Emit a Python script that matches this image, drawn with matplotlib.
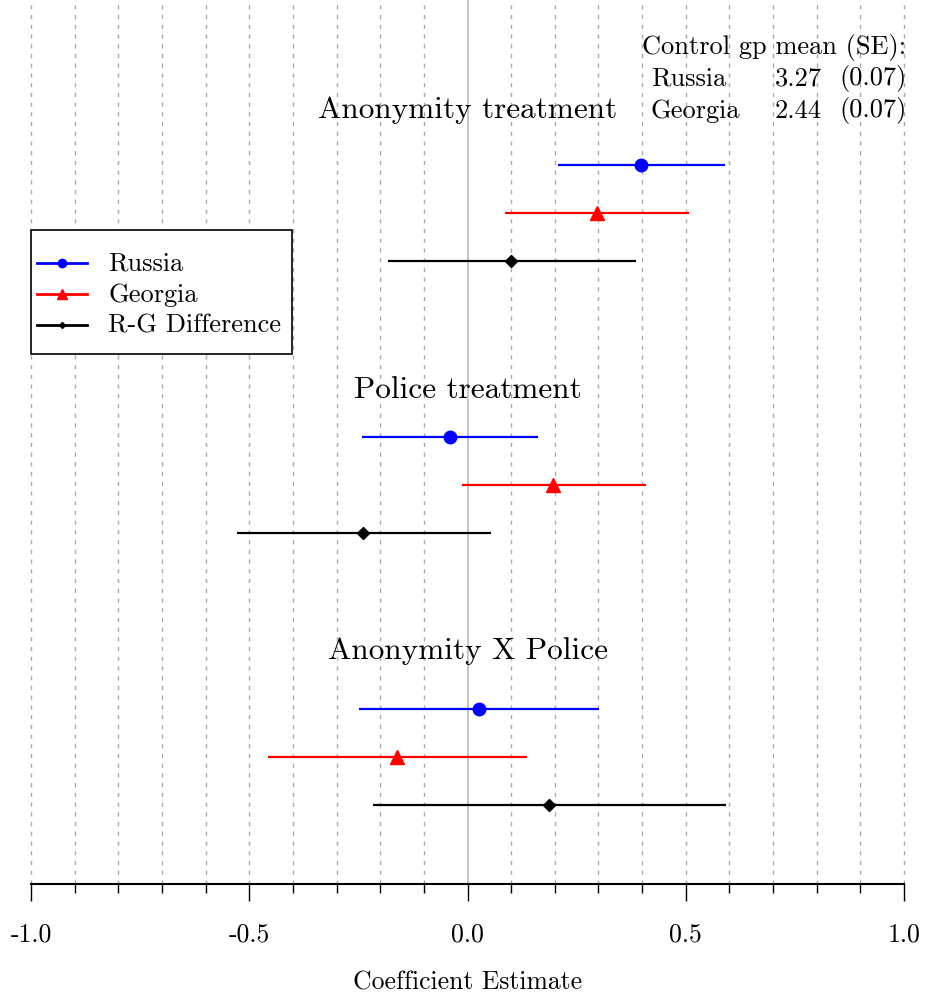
import matplotlib
matplotlib.use("Agg")
import matplotlib.pyplot as plt
from matplotlib.patches import Rectangle
from matplotlib.lines import Line2D
from matplotlib.ticker import MultipleLocator

plt.rcParams['font.family'] = ['cmr10', 'DejaVu Serif']
plt.rcParams['axes.unicode_minus'] = False

# treatment groups and series
groups = ['Anonymity treatment', 'Police treatment', 'Anonymity X Police']
series = ['Russia', 'Georgia', 'R-G Difference']
colors = ['blue', 'red', 'black']
markers = ['o', '^', 'D']
msizes = [9, 10, 6.5]

# estimates with lower / upper bounds, one list per series (order of groups)
est = {
    'Russia':         [0.397, -0.040, 0.026],
    'Georgia':        [0.297, 0.196, -0.162],
    'R-G Difference': [0.100, -0.239, 0.187],
}
lo = {
    'Russia':         [0.207, -0.242, -0.249],
    'Georgia':        [0.086, -0.013, -0.457],
    'R-G Difference': [-0.182, -0.528, -0.216],
}
hi = {
    'Russia':         [0.590, 0.162, 0.301],
    'Georgia':        [0.507, 0.409, 0.136],
    'R-G Difference': [0.386, 0.054, 0.592],
}

# control group means
ctrl_names = ['Russia', 'Georgia']
ctrl_mean = ['3.27', '2.44']
ctrl_se = ['(0.07)', '(0.07)']

W, H = 925, 995
fig = plt.figure(figsize=(W / 100, H / 100), dpi=100)
ax = fig.add_axes([31 / W, 1 - 885 / H, 873 / W, 885 / H])

# row layout (in units of one row = 48 px)
group_start = [3.46, 9.125, 14.79]
title_off = [1.17, 1.0, 1.23]
for g, (name, y0) in enumerate(zip(groups, group_start)):
    ax.text(0.0, y0 - title_off[g], name, ha='center', va='center',
            fontsize=22.5)
    for s, ser in enumerate(series):
        y = y0 + s
        ax.plot([lo[ser][g], hi[ser][g]], [y, y], color=colors[s], lw=1.6,
                solid_capstyle='butt', zorder=3)
        ax.plot(est[ser][g], y, marker=markers[s], color=colors[s],
                markersize=msizes[s], lw=0, zorder=4)

# legend box, drawn in figure pixels
def fx(px):
    return px / W

def fy(py):
    return 1 - py / H

fig.patches.append(Rectangle((fx(31), fy(355)), fx(292) - fx(31),
                             fy(231) - fy(355), transform=fig.transFigure,
                             facecolor='white', edgecolor='black', lw=1.2,
                             zorder=5))
leg_ms = [6, 6.5, 3]
for s, ser in enumerate(series):
    yy = fy(264 + 31 * s)
    fig.add_artist(Line2D([fx(37), fx(87)], [yy, yy], color=colors[s], lw=2,
                          transform=fig.transFigure, zorder=6))
    fig.add_artist(Line2D([fx(62)], [yy], color=colors[s], marker=markers[s],
                          markersize=leg_ms[s], lw=0,
                          transform=fig.transFigure, zorder=6))
    fig.text(fx(108), yy, ser, ha='left', va='center', fontsize=19,
             zorder=6)

# grid
for v in [i / 10 for i in range(-10, 11)]:
    if v == 0:
        ax.axvline(0, color='#bbbbbb', lw=1.2, zorder=1)
    else:
        ax.axvline(v, color='#aaaaaa', lw=1, ls=(0, (3, 4)), zorder=1,
                   clip_on=False)

# control group box
fs_ctrl = 19
fig.text(fx(906), fy(48), 'Control gp mean (SE):', ha='right', va='center',
         fontsize=fs_ctrl)
for i, (n, m, se) in enumerate(zip(ctrl_names, ctrl_mean, ctrl_se)):
    yy = fy(79 + 32 * i)
    fig.text(fx(651), yy, n, ha='left', va='center', fontsize=fs_ctrl)
    fig.text(fx(822), yy, m, ha='right', va='center', fontsize=fs_ctrl)
    fig.text(fx(907), yy, se, ha='right', va='center', fontsize=fs_ctrl)

ax.set_xlim(-1, 1)
ax.set_ylim(885 / 48, 0)
ax.set_yticks([])
for side in ['top', 'left', 'right']:
    ax.spines[side].set_visible(False)
ax.spines['bottom'].set_linewidth(1.5)
ax.set_xticks([-1, -0.5, 0, 0.5, 1])
ax.set_xticklabels(['-1.0', '-0.5', '0.0', '0.5', '1.0'])
ax.xaxis.set_minor_locator(MultipleLocator(0.1))
ax.tick_params(axis='x', which='major', length=12.5, width=1, pad=15,
               labelsize=18.5)
ax.tick_params(axis='x', which='minor', length=6.5, width=1)
ax.set_xlabel('Coefficient Estimate', fontsize=18.5, labelpad=17)

fig.savefig('out.png', dpi=100)
